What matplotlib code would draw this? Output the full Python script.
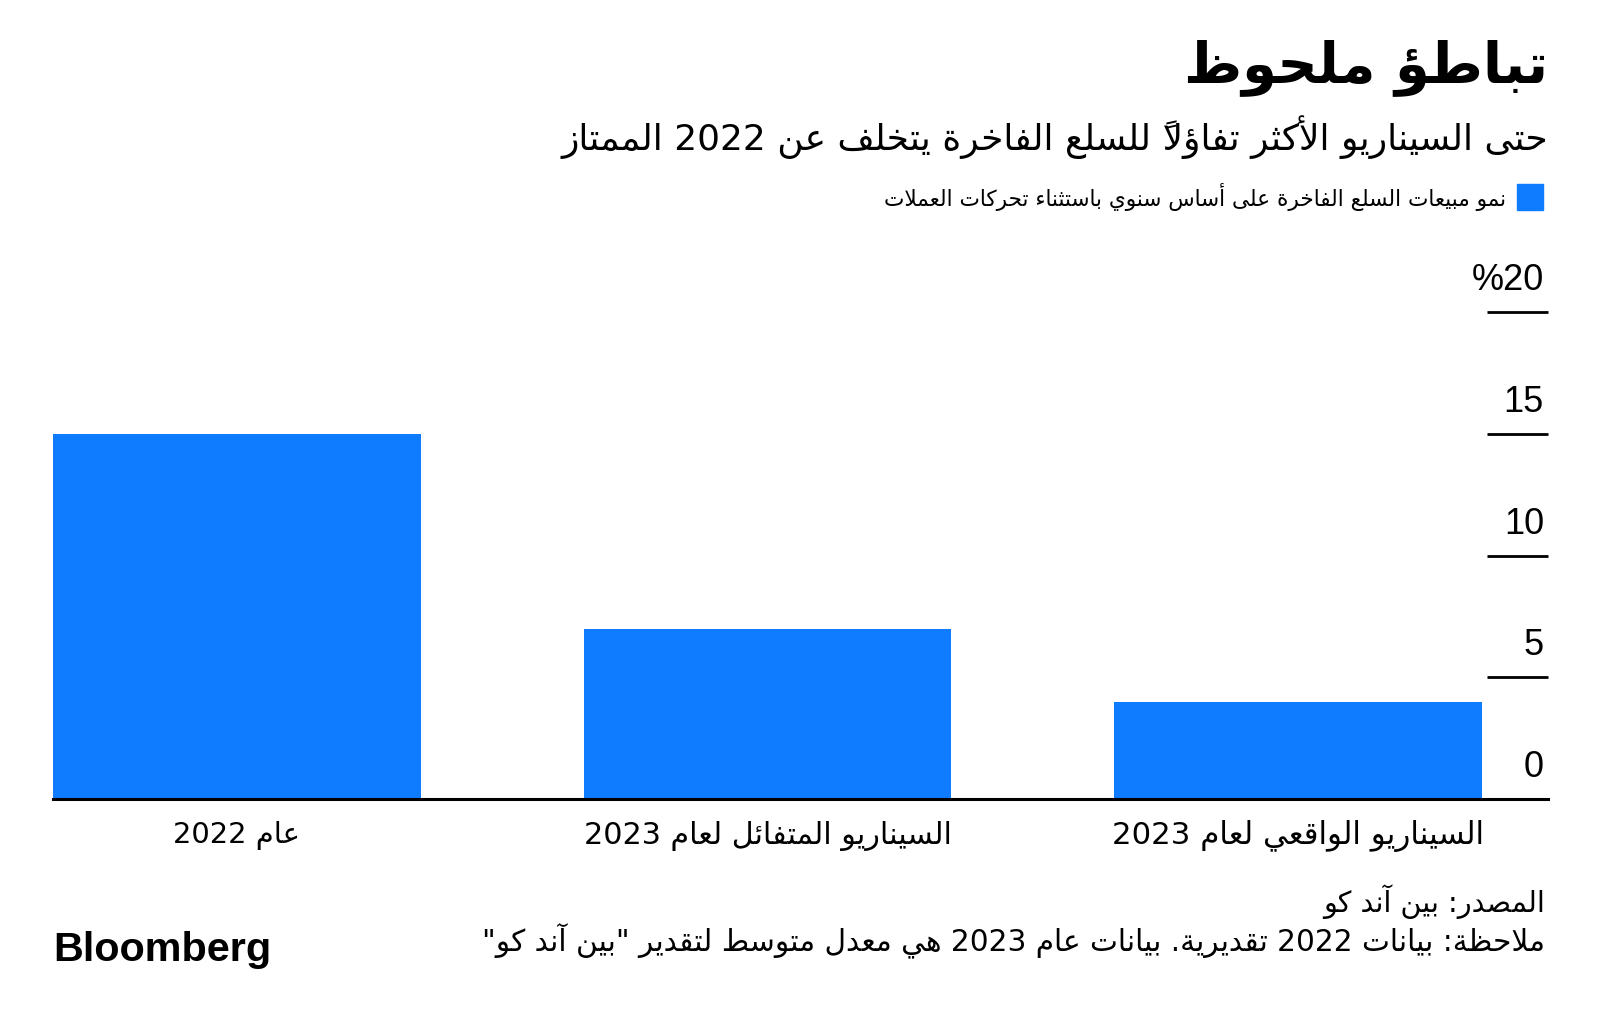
import unicodedata
import numpy as np
import matplotlib
matplotlib.use("Agg")
import matplotlib.pyplot as plt
from matplotlib.patches import Rectangle

# ---------------- data ----------------
title = "تباطؤ ملحوظ"
subtitle = "حتى السيناريو الأكثر تفاؤلاً للسلع الفاخرة يتخلف عن 2022 الممتاز"
legend_label = "نمو مبيعات السلع الفاخرة على أساس سنوي باستثناء تحركات العملات"
categories = ["عام 2022", "السيناريو المتفائل لعام 2023", "السيناريو الواقعي لعام 2023"]
values = [15, 7, 4]
yticks = [0, 5, 10, 15, 20]
source = "المصدر: بين آند كو"
note = 'ملاحظة: بيانات 2022 تقديرية. بيانات عام 2023 هي معدل متوسط لتقدير "بين آند كو"'
brand = "Bloomberg"

BLUE = "#0f7bff"

# ------------- minimal Arabic shaping + RTL ordering -------------
DUAL = {0x0626: 0xFE89, 0x0628: 0xFE8F, 0x062A: 0xFE95, 0x062B: 0xFE99, 0x062C: 0xFE9D,
        0x062D: 0xFEA1, 0x062E: 0xFEA5, 0x0633: 0xFEB1, 0x0634: 0xFEB5, 0x0635: 0xFEB9,
        0x0636: 0xFEBD, 0x0637: 0xFEC1, 0x0638: 0xFEC5, 0x0639: 0xFEC9, 0x063A: 0xFECD,
        0x0641: 0xFED1, 0x0642: 0xFED5, 0x0643: 0xFED9, 0x0644: 0xFEDD, 0x0645: 0xFEE1,
        0x0646: 0xFEE5, 0x0647: 0xFEE9, 0x064A: 0xFEF1}
RIGHT = {0x0622: 0xFE81, 0x0623: 0xFE83, 0x0624: 0xFE85, 0x0625: 0xFE87, 0x0627: 0xFE8D,
         0x0629: 0xFE93, 0x062F: 0xFEA9, 0x0630: 0xFEAB, 0x0631: 0xFEAD, 0x0632: 0xFEAF,
         0x0648: 0xFEED}
LAMALEF = {0x0622: 0xFEF5, 0x0623: 0xFEF7, 0x0625: 0xFEF9, 0x0627: 0xFEFB}


def _jtype(u):
    if u['la']:
        return 'R'
    o = ord(u['c'])
    if o in DUAL or o == 0x0649:
        return 'D'
    if o in RIGHT:
        return 'R'
    return 'U'


def _glyph(u, form):
    o = ord(u['c'])
    if u['la']:
        return chr(LAMALEF[o] + (1 if form == 1 else 0))
    if o in DUAL:
        return chr(DUAL[o] + form)
    if o == 0x0649:
        return chr([0xFEEF, 0xFEF0, 0xFBE8, 0xFBE9][form])
    if o in RIGHT:
        return chr(RIGHT[o] + (1 if form in (1, 3) else 0))
    if o == 0x0621:
        return '\uFE80'
    return u['c']


def ar(s):
    units = []
    for ch in s:
        if unicodedata.combining(ch) and units:
            units[-1]['m'] += ch
        else:
            units.append({'c': ch, 'm': '', 'la': False})
    merged = []
    for u in units:
        if (merged and ord(u['c']) in LAMALEF and merged[-1]['c'] == '\u0644'
                and not merged[-1]['m'] and not merged[-1]['la']):
            merged[-1] = {'c': u['c'], 'm': u['m'], 'la': True}
        else:
            merged.append(u)
    n = len(merged)
    types = [_jtype(u) for u in merged]
    tokens = []
    for i, u in enumerate(merged):
        t = types[i]
        jp = i > 0 and types[i - 1] == 'D' and t in ('D', 'R')
        jn = i < n - 1 and t == 'D' and types[i + 1] in ('D', 'R')
        form = 3 if (jp and jn) else 1 if jp else 2 if jn else 0
        g = u['m'] + _glyph(u, form)
        isdig = u['c'].isdigit() and not u['la']
        if isdig and tokens and tokens[-1][1]:
            tokens[-1][0] += g
        else:
            tokens.append([g, isdig])
    return ''.join(t[0] for t in reversed(tokens))


# ---------------- figure ----------------
plt.rcParams['font.family'] = ['DejaVu Sans']
W, H = 1600, 1029
fig = plt.figure(figsize=(W / 100, H / 100), dpi=100)
fig.patch.set_facecolor('white')

ax = fig.add_axes([53 / W, 1 - 799 / H, 1495 / W, 487 / H])
x = np.arange(len(categories))
ax.bar(x, values, width=0.693, color=BLUE, zorder=2)
ax.set_xlim(-0.3465, 2.471)
ax.set_ylim(0, 20)
for s in ax.spines.values():
    s.set_visible(False)
ax.set_xticks([])
ax.set_yticks([])
ax.patch.set_alpha(0)

ax.axhline(0, color='black', lw=2.2, zorder=3, clip_on=False)
ytr = ax.get_yaxis_transform()
for v in yticks:
    if v > 0:
        ax.plot([1 - 61 / 1495, 1.0], [v, v], transform=ytr, color='black',
                lw=2.0, solid_capstyle='butt', clip_on=False, zorder=3)
    lab = ar(f"{v}%") if v == yticks[-1] else str(v)
    ax.annotate(lab, xy=(1 - 4 / 1495, v), xycoords=ytr,
                xytext=(0, 22 * 0.72), textcoords='offset points',
                ha='right', va='baseline', fontsize=26,
                family='Liberation Sans', color='black')

fits = []
for xi, c in zip(x, categories):
    t = ax.annotate(ar(c), xy=(xi, 0), xycoords='data',
                    xytext=(0, -(836 - 799) * 0.72), textcoords='offset points',
                    ha='center', va='center', fontsize=20, color='black')
    fits.append(t)

tt = fig.text(1548 / W, 1 - 68 / H, ar(title), ha='right', va='center',
              fontsize=40, fontweight='bold', color='black')
st = fig.text(1548 / W, 1 - 137 / H, ar(subtitle), ha='right', va='center',
              fontsize=24, color='black')
fig.add_artist(Rectangle((1517 / W, 1 - 210 / H), 26 / W, 26 / H,
                         transform=fig.transFigure, color=BLUE))
lt = fig.text(1506 / W, 1 - 197 / H, ar(legend_label), ha='right', va='center',
              fontsize=15, color='black')
so = fig.text(1545 / W, 1 - 902 / H, ar(source), ha='right', va='center',
              fontsize=18, color='black')
no = fig.text(1545 / W, 1 - 941 / H, ar(note), ha='right', va='center',
              fontsize=18, color='black')
bl = fig.text(53 / W, 1 - 950 / H, brand, ha='left', va='center',
              fontsize=26, fontweight='bold', family='Liberation Sans', color='black')

targets = [(fits[0], 127), (fits[1], 367), (fits[2], 372), (tt, 364), (st, 994),
           (lt, 626), (so, 222), (no, 1062), (bl, 218)]
fig.canvas.draw()
r = fig.canvas.get_renderer()
for t, target in targets:
    w = t.get_window_extent(r).width
    t.set_fontsize(t.get_fontsize() * target / w)

fig.savefig('out.png', dpi=100, facecolor='white')
